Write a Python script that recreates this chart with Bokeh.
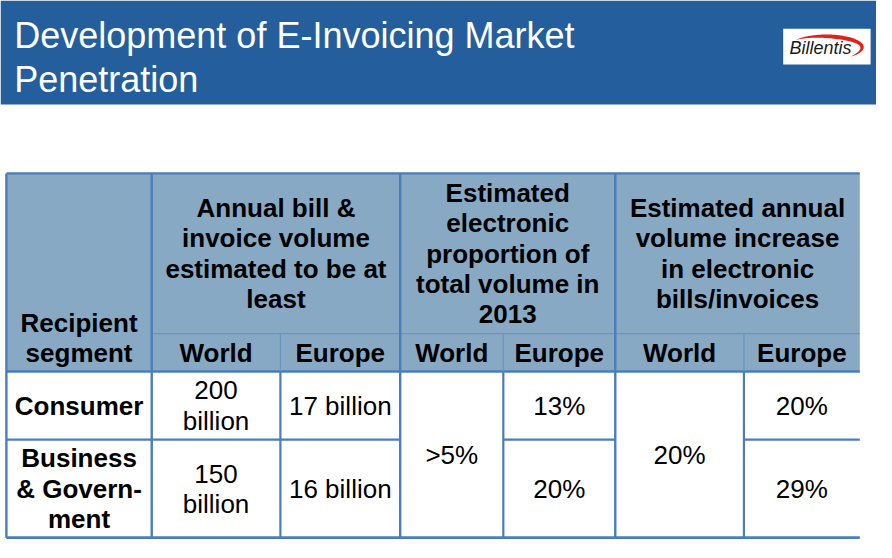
import math
from bokeh.plotting import figure
from bokeh.models import Range1d, ColumnDataSource
from bokeh.embed import file_html
from bokeh.resources import INLINE
from bokeh.core.properties import value

# ---------------- data (table content) ----------------
title_lines = ["Development of E-Invoicing Market", "Penetration"]
logo_text = "Billentis"
first_col_header = ["Recipient", "segment"]
group_headers = [
    ["Annual bill &", "invoice volume", "estimated to be at", "least"],
    ["Estimated", "electronic", "proportion of", "total volume in", "2013"],
    ["Estimated annual", "volume increase", "in electronic", "bills/invoices"],
]
regions = ["World", "Europe"]
segments = [["Consumer"], ["Business", "& Govern-", "ment"]]
volume_world = [["200", "billion"], ["150", "billion"]]
volume_europe = [["17 billion"], ["16 billion"]]
share_world = [">5%"]
share_europe = [["13%"], ["20%"]]
growth_world = [["20%"]]
growth_europe = [["20%"], ["29%"]]

# ---------------- layout (reference pixel space) ----------------
W, H = 892, 558
col_edges = [6, 154, 285, 407, 512, 626, 757, 875]
row_edges = [178, 343, 382, 452, 553]
LINE = 31

BAND = "#245E9C"
HEAD_FILL = "#87A9C4"
BORDER = "#4A7EBB"
THIN = "#6A93C6"
FONT = "Liberation Sans"

p = figure(width=876, height=542, x_range=Range1d(0, W), y_range=Range1d(H, 0),
           output_backend="svg", toolbar_location=None,
           x_axis_location=None, y_axis_location=None, min_border=0)
p.xgrid.visible = False
p.ygrid.visible = False
p.outline_line_color = None
p.background_fill_color = "white"
p.border_fill_color = "white"

# header band
p.quad(left=[0], right=[W], top=[0], bottom=[107], fill_color=BAND, line_color=None)
p.text(x=[14, 14], y=[36, 81], text=title_lines, text_color="white",
       text_font=value(FONT), text_font_size="36px", text_baseline="alphabetic",
       text_align="left")

# logo
p.quad(left=[797], right=[886], top=[29], bottom=[66], fill_color="white", line_color=None)
cx, cy, a, b = 841, 48, 38, 13
n = 60
t1, t2 = math.radians(145), math.radians(-50)
outer, inner = [], []
for i in range(n + 1):
    s = i / n
    t = t1 + (t2 - t1) * s
    w = 4.5 * math.sin(math.pi * s) ** 0.8
    outer.append((cx + a * math.cos(t), cy - b * math.sin(t)))
    inner.append((cx + (a - w) * math.cos(t), cy - (b - w) * math.sin(t)))
pts = outer + inner[::-1]
p.patch([q[0] for q in pts], [q[1] for q in pts], fill_color="#E3211C", line_color=None)
p.text(x=[835], y=[49], text=[logo_text], text_color="#1a1a1a", text_font=value(FONT),
       text_font_size="18px", text_font_style="italic", text_align="center",
       text_baseline="middle")

# table fills
p.quad(left=[col_edges[0]], right=[col_edges[-1]], top=[row_edges[0]], bottom=[row_edges[2]],
       fill_color=HEAD_FILL, line_color=None)
p.quad(left=[col_edges[0]], right=[col_edges[-1]], top=[row_edges[2]], bottom=[row_edges[4]],
       fill_color="white", line_color=None)

# borders
seg = dict(x0=[], y0=[], x1=[], y1=[], w=[], c=[])
def line(x0, y0, x1, y1, w=2.2, c=BORDER):
    seg["x0"].append(x0); seg["y0"].append(y0); seg["x1"].append(x1); seg["y1"].append(y1)
    seg["w"].append(w); seg["c"].append(c)

L, R = col_edges[0], col_edges[-1]
line(L, row_edges[0], R, row_edges[0])
line(col_edges[1], row_edges[1], R, row_edges[1], 1.2, THIN)
line(L, row_edges[2], R, row_edges[2], 2.6)
line(L, row_edges[3], col_edges[3], row_edges[3])
line(col_edges[4], row_edges[3], col_edges[5], row_edges[3])
line(col_edges[6], row_edges[3], R, row_edges[3])
line(L, row_edges[4], R, row_edges[4], 2.6)
for xi in [0, 1, 3, 5]:
    line(col_edges[xi], row_edges[0], col_edges[xi], row_edges[4], 2.4)
for xi in [2, 4, 6]:
    line(col_edges[xi], row_edges[1], col_edges[xi], row_edges[2], 1.2, THIN)
    line(col_edges[xi], row_edges[2], col_edges[xi], row_edges[4], 2.2)
p.segment(x0="x0", y0="y0", x1="x1", y1="y1", line_width="w", line_color="c",
          source=ColumnDataSource(seg))

# texts
bold = dict(x=[], y=[], text=[])
norm = dict(x=[], y=[], text=[])
def cell(store, c0, c1, r0, r1, lines, anchor="center"):
    xc = (col_edges[c0] + col_edges[c1]) / 2
    nl = len(lines)
    if anchor == "bottom":
        ylast = row_edges[r1] - 19
        ys = [ylast - (nl - 1 - i) * LINE for i in range(nl)]
    else:
        yc = (row_edges[r0] + row_edges[r1]) / 2
        ys = [yc + (i - (nl - 1) / 2) * LINE for i in range(nl)]
    for t, y in zip(lines, ys):
        store["x"].append(xc); store["y"].append(y); store["text"].append(t)

cell(bold, 0, 1, 0, 2, first_col_header, "bottom")
for g, hdr in enumerate(group_headers):
    c0 = 1 + 2 * g
    cell(bold, c0, c0 + 2, 0, 1, hdr)
    for k, reg in enumerate(regions):
        cell(bold, c0 + k, c0 + k + 1, 1, 2, [reg])
for r in range(2):
    r0 = 2 + r
    cell(bold, 0, 1, r0, r0 + 1, segments[r])
    cell(norm, 1, 2, r0, r0 + 1, volume_world[r])
    cell(norm, 2, 3, r0, r0 + 1, volume_europe[r])
    cell(norm, 4, 5, r0, r0 + 1, share_europe[r])
    cell(norm, 6, 7, r0, r0 + 1, growth_europe[r])
cell(norm, 3, 4, 2, 4, share_world)
cell(norm, 5, 6, 2, 4, growth_world[0])

p.text(x="x", y="y", text="text", source=ColumnDataSource(bold), text_color="black",
       text_font=value(FONT), text_font_size="26px", text_font_style="bold",
       text_align="center", text_baseline="middle")
p.text(x="x", y="y", text="text", source=ColumnDataSource(norm), text_color="black",
       text_font=value(FONT), text_font_size="26px", text_align="center",
       text_baseline="middle")

open("out.html", "w").write(file_html(p, INLINE))
